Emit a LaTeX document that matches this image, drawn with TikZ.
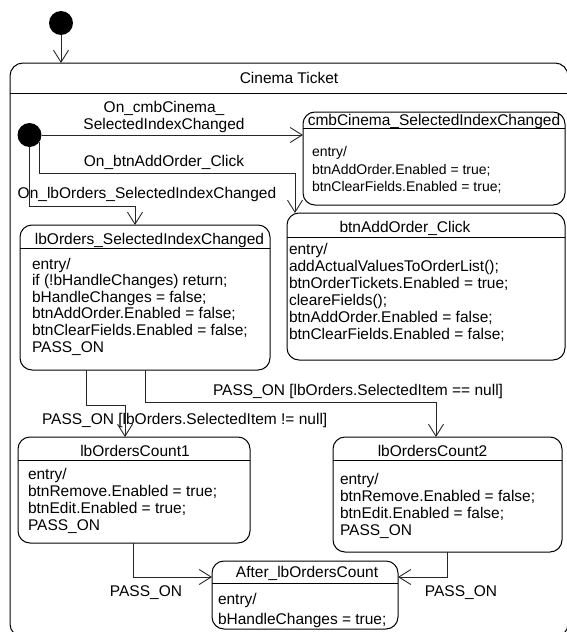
\documentclass[tikz,border=0pt]{standalone}
\usepackage{fontspec}
\setmainfont{Liberation Sans}
\usetikzlibrary{arrows.meta}

\begin{document}
\begin{tikzpicture}[x=1pt,y=-1pt,
  every node/.style={inner sep=0pt,outer sep=0pt},
  statebox/.style={draw=black,line width=1pt,rounded corners=12pt,anchor=north west},
  hdr/.style={draw=black,line width=1pt},
  ttl/.style={font=\fontsize{15.5}{17}\selectfont,anchor=base},
  body/.style={font=\fontsize{15.5}{17}\selectfont,align=left,anchor=base west},
  lbl/.style={font=\fontsize{15.5}{17}\selectfont,anchor=base},
  dot/.style={circle,fill=black,minimum size=24pt},
  edge/.style={draw=black!85,line width=0.9pt,
    -{Straight Barb[length=12pt,width=15pt,line width=0.9pt]}}]
\useasboundingbox (0,0) rectangle (567,632);
\clip (0,0) rectangle (567,632);

% outer composite state
\node[draw=black,line width=1pt,rounded corners=13pt,minimum width=558pt,
  minimum height=574pt,anchor=north west] (cont) at (10,63) {};
\draw[hdr] (cont.west |- 0,93.5) -- (cont.east |- 0,93.5);
\node[ttl] (contT) at (289,83) {Cinema Ticket};

% initial pseudo states
\node[dot] (top) at (61,23) {};
\node[dot] (idot) at (29.5,135) {};
\draw[edge] (top) -- (top |- cont.north);

% body texts are anchored at the baseline of their last line

% cmbCinema_SelectedIndexChanged
\node[statebox,minimum width=262pt,minimum height=93pt] (cmb) at (303,112) {};
\draw[hdr] (cmb.west |- 0,128) -- (cmb.east |- 0,128);
\node[ttl] (cmbT) at (434,125.5) {cmbCinema\_SelectedIndexChanged};
\node[body,font=\fontsize{14}{17.5}\selectfont] (cmbB) at (312,191.5)
  {entry/\\btnAddOrder.Enabled = true;\\btnClearFields.Enabled = true;};

% btnAddOrder_Click
\node[statebox,minimum width=278pt,minimum height=147pt] (btnadd) at (287,213) {};
\draw[hdr] (btnadd.west |- 0,237) -- (btnadd.east |- 0,237);
\node[ttl] (btnaddT) at (405,232.5) {btnAddOrder\_Click};
\node[body] (btnaddB) at (289,339.5)
  {entry/\\addActualValuesToOrderList();\\btnOrderTickets.Enabled = true;\\cleareFields();\\btnAddOrder.Enabled = false;\\btnClearFields.Enabled = false;};

% lbOrders_SelectedIndexChanged
\node[statebox,minimum width=250pt,minimum height=145pt] (lbo) at (20,225) {};
\draw[hdr] (lbo.west |- 0,248) -- (lbo.east |- 0,248);
\node[ttl] (lboT) at (149.5,244.5) {lbOrders\_SelectedIndexChanged};
\node[body,font=\fontsize{15.5}{16.6}\selectfont] (lboB) at (32,352)
  {entry/\\if (!bHandleChanges) return;\\bHandleChanges = false;\\btnAddOrder.Enabled = false;\\btnClearFields.Enabled = false;\\PASS\_ON};

% lbOrdersCount1
\node[statebox,minimum width=232pt,minimum height=106pt] (lbc1) at (18,437) {};
\draw[hdr] (lbc1.west |- 0,460) -- (lbc1.east |- 0,460);
\node[ttl] (lbc1T) at (135,456.5) {lbOrdersCount1};
\node[body] (lbc1B) at (28,530.5)
  {entry/\\btnRemove.Enabled = true;\\btnEdit.Enabled = true;\\PASS\_ON};

% lbOrdersCount2
\node[statebox,minimum width=229pt,minimum height=115pt] (lbc2) at (333,437) {};
\draw[hdr] (lbc2.west |- 0,460) -- (lbc2.east |- 0,460);
\node[ttl] (lbc2T) at (432.5,456.5) {lbOrdersCount2};
\node[body] (lbc2B) at (340,535.5)
  {entry/\\btnRemove.Enabled = false;\\btnEdit.Enabled = false;\\PASS\_ON};

% After_lbOrdersCount
\node[statebox,minimum width=186pt,minimum height=68pt] (after) at (212,561) {};
\draw[hdr] (after.west |- 0,583) -- (after.east |- 0,583);
\node[ttl] (afterT) at (307,577.5) {After\_lbOrdersCount};
\node[body,font=\fontsize{15.5}{20}\selectfont] (afterB) at (218,624.5)
  {entry/\\bHandleChanges = true;};

% transitions from the inner initial state
\draw[edge] (idot.east) -- (idot.east -| cmb.west);
\coordinate (b2) at (295,173);
\draw[edge] (idot.-33) |- (b2) -- (b2 |- btnadd.north);
\coordinate (b3) at (135,206);
\draw[edge] (idot.south) |- (b3) -- (b3 |- lbo.north);

% guarded PASS_ON transitions
\coordinate (b4) at (86,405);
\coordinate (b4e) at (125,405);
\draw[edge] (b4 |- lbo.south) -- (b4) -- (b4e) -- (b4e |- lbc1.north);
\coordinate (b5) at (145,402);
\coordinate (b5e) at (436,402);
\draw[edge] (b5 |- lbo.south) -- (b5) -- (b5e) -- (b5e |- lbc2.north);
\coordinate (b6) at (133,577);
\draw[edge] (b6 |- lbc1.south) -- (b6) -- (b6 -| after.west);
\coordinate (b7) at (447,577);
\draw[edge] (b7 |- lbc2.south) -- (b7) -- (b7 -| after.east);

% transition labels
\node[lbl] (l1a) at (164,112) {On\_cmbCinema\_};
\node[lbl] (l1b) at (164,129.5) {SelectedIndexChanged};
\node[lbl] (l2) at (164,166) {On\_btnAddOrder\_Click};
\node[lbl] (l3) at (147,198) {On\_lbOrders\_SelectedIndexChanged};
\node[lbl,anchor=base west] (l5) at (213,395) {PASS\_ON [lbOrders.SelectedItem == null]};
\node[lbl,anchor=base west] (l4) at (42,424) {PASS\_ON [lbOrders.SelectedItem != null]};
\node[lbl] (l6) at (146,596) {PASS\_ON};
\node[lbl] (l7) at (461,596) {PASS\_ON};
\end{tikzpicture}
\end{document}
